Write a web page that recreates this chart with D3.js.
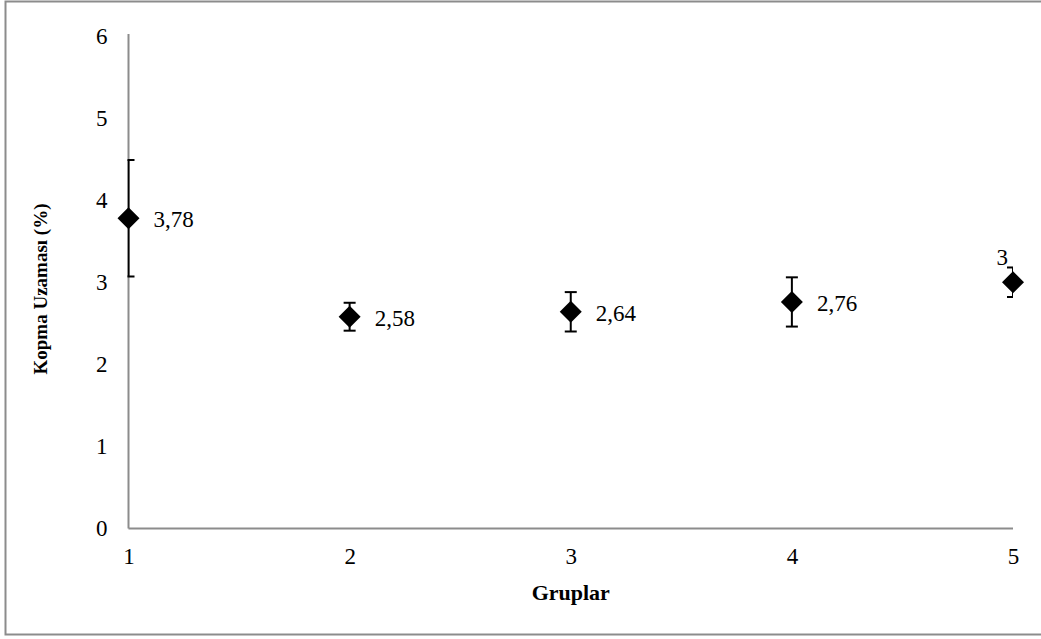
<!DOCTYPE html>
<html>
<head>
<meta charset="utf-8">
<script src="https://cdn.jsdelivr.net/npm/d3@7"></script>
<style>
body { margin: 0; background: #fff; }
svg { display: block; font-family: "Liberation Serif", "Times New Roman", serif; }
</style>
</head>
<body>
<svg id="chart" width="1041" height="639"></svg>
<script>
var groups = [1, 2, 3, 4, 5];
var means = [3.78, 2.58, 2.64, 2.76, 3];
var errors = [0.71, 0.17, 0.24, 0.30, 0.18];
var labels = ["3,78", "2,58", "2,64", "2,76", "3"];
var yTicks = [0, 1, 2, 3, 4, 5, 6];

var svg = d3.select('#chart');

// outer frame
svg.append('rect')
    .attr('x', 5.5).attr('y', 1.5)
    .attr('width', 1060).attr('height', 633)
    .attr('fill', 'none')
    .attr('stroke', '#8c8c8c')
    .attr('stroke-width', 2);

var pLeft = 128.5, pRight = 1013, pTop = 36, pBottom = 528.5;
var fs = 23;

var x = d3.scaleLinear().domain([1, 5]).range([pLeft, pRight]);
var y = d3.scaleLinear().domain([0, 6]).range([pBottom, pTop]);

var xAxis = svg.append('g')
    .attr('transform', 'translate(0,' + pBottom + ')')
    .call(d3.axisBottom(x).tickValues(groups).tickSize(0).tickPadding(19).tickFormat(d3.format('d')));
var yAxis = svg.append('g')
    .attr('transform', 'translate(' + pLeft + ',0)')
    .call(d3.axisLeft(y).tickValues(yTicks).tickSize(0).tickPadding(21).tickFormat(d3.format('d')));

[xAxis, yAxis].forEach(function(a){
    a.select('.domain').attr('stroke', '#8c8c8c').attr('stroke-width', 2);
    a.selectAll('text').attr('font-size', fs).attr('fill', '#000')
        .attr('font-family', '"Liberation Serif", serif');
});
yAxis.select('.domain').attr('d', 'M0,' + (pTop - 2) + 'V' + pBottom);
xAxis.select('.domain').attr('d', 'M' + pLeft + ',0H' + pRight);

svg.append('text')
    .attr('x', (pLeft + pRight) / 2).attr('y', 600)
    .attr('text-anchor', 'middle')
    .attr('font-size', 22).attr('font-weight', 'bold')
    .text('Gruplar');

svg.append('text')
    .attr('transform', 'translate(47,289) rotate(-90)')
    .attr('text-anchor', 'middle')
    .attr('font-size', 19).attr('font-weight', 'bold')
    .text('Kopma Uzaması (%)');

// clip error bars to plot area
svg.append('clipPath').attr('id', 'plot')
    .append('rect')
    .attr('x', pLeft - 1).attr('y', 0)
    .attr('width', pRight - pLeft + 1).attr('height', pBottom);

var pts = svg.append('g').attr('clip-path', 'url(#plot)');

groups.forEach(function(g, i){
    var cx = x(g);
    var yHi = y(means[i] + errors[i]);
    var yLo = y(means[i] - errors[i]);
    pts.append('line')
        .attr('x1', cx).attr('x2', cx).attr('y1', yHi).attr('y2', yLo)
        .attr('stroke', '#000').attr('stroke-width', 2);
    [yHi, yLo].forEach(function(yy){
        pts.append('line')
            .attr('x1', cx - 6).attr('x2', cx + 6).attr('y1', yy).attr('y2', yy)
            .attr('stroke', '#000').attr('stroke-width', 2);
    });
    var cy = y(means[i]);
    svg.append('path')
        .attr('d', 'M' + cx + ',' + (cy - 11) + 'L' + (cx + 11) + ',' + cy + 'L' + cx + ',' + (cy + 11) + 'L' + (cx - 11) + ',' + cy + 'Z')
        .attr('fill', '#000');
});

groups.forEach(function(g, i){
    var cx = x(g), cy = y(means[i]);
    var last = i == groups.length - 1;
    svg.append('text')
        .attr('x', last ? cx - 5 : cx + 25)
        .attr('y', last ? cy - 17 : cy + 9)
        .attr('text-anchor', last ? 'end' : 'start')
        .attr('font-size', fs)
        .text(labels[i]);
});
</script>
</body>
</html>
